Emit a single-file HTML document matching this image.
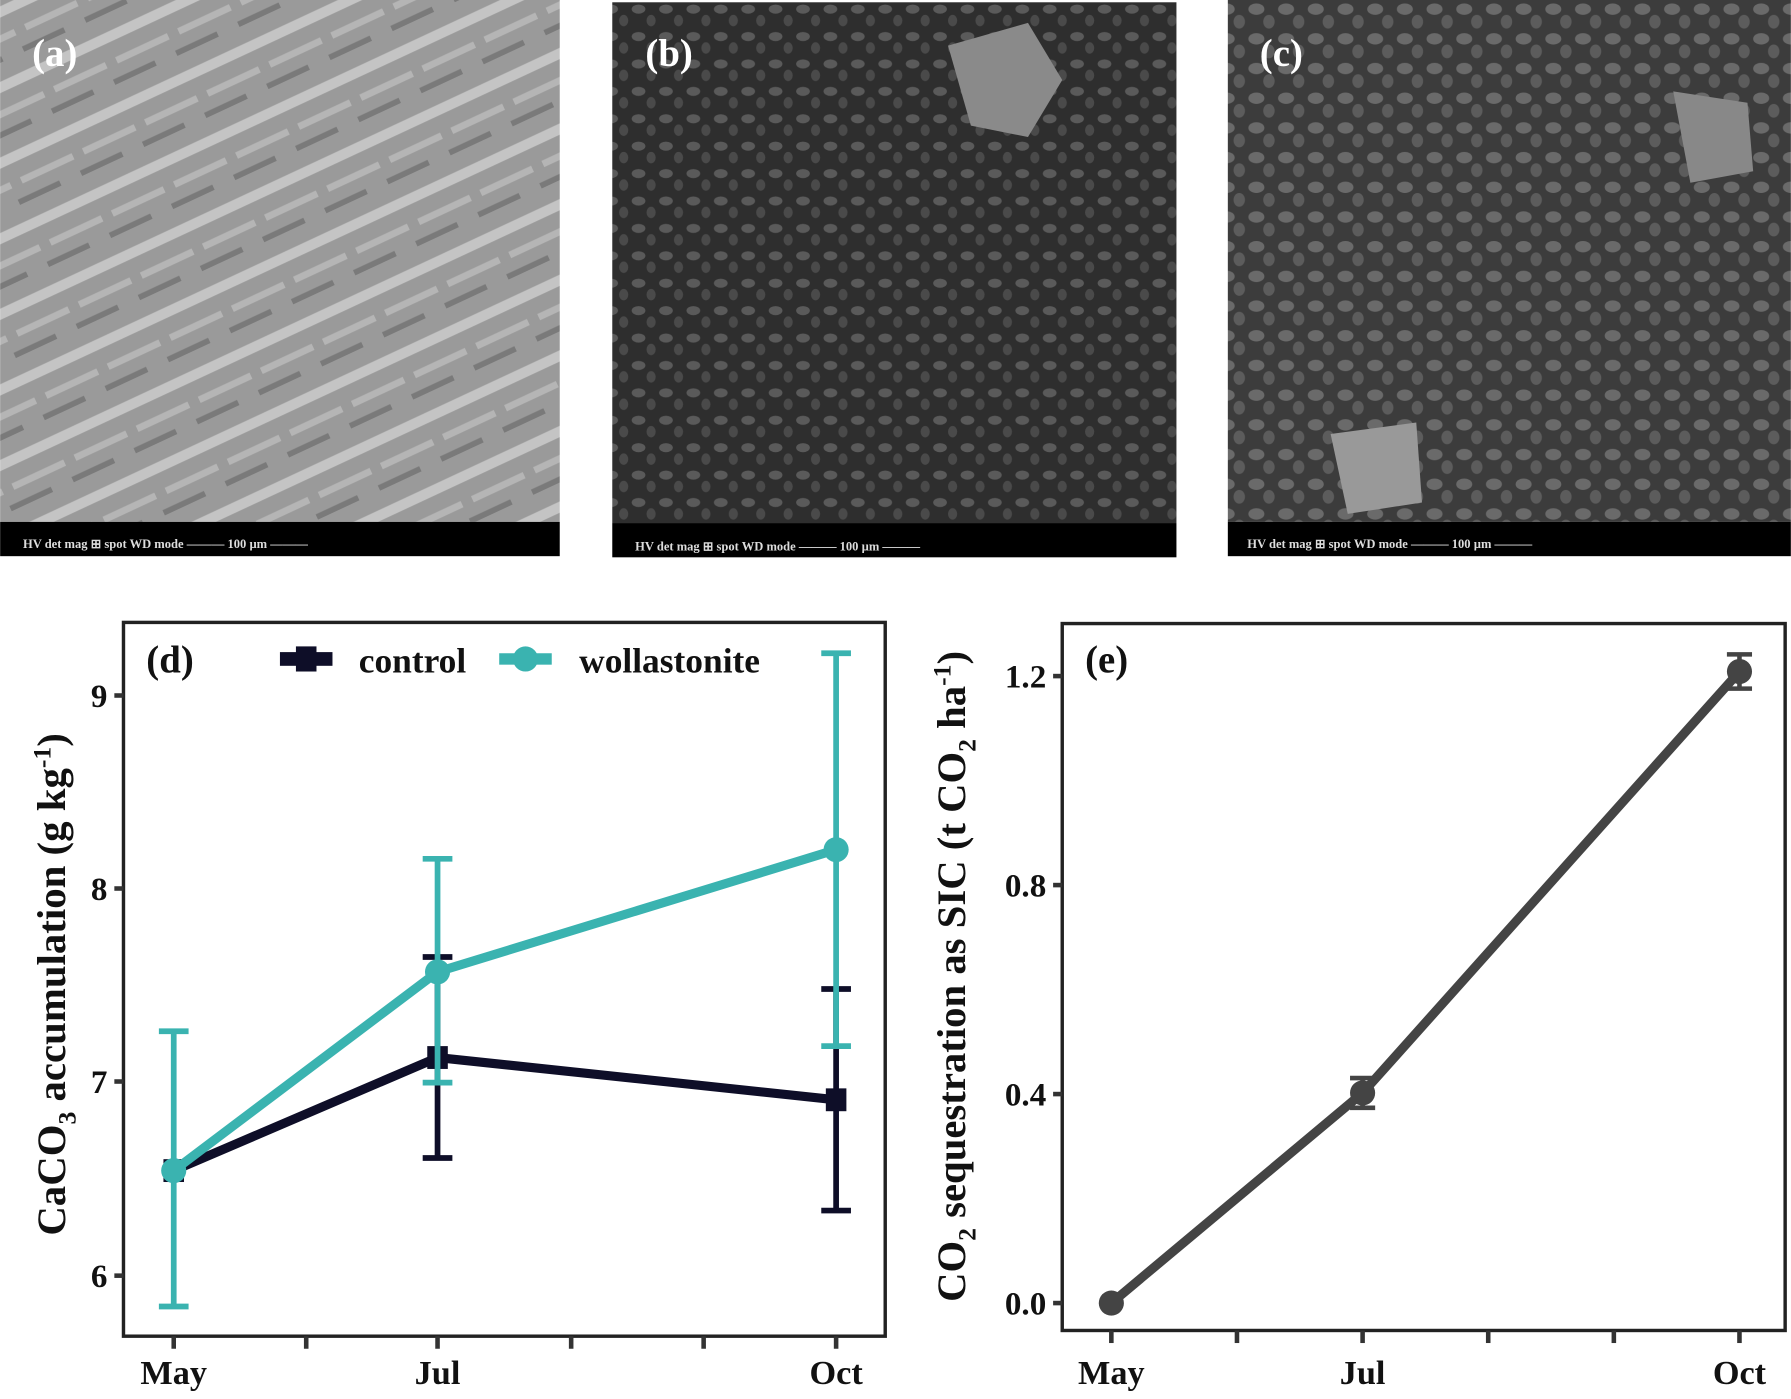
<!DOCTYPE html>
<html><head><meta charset="utf-8"><style>
html,body{margin:0;padding:0;background:#fff;}
svg{display:block;}
text{font-family:"Liberation Serif",serif;font-weight:bold;}
</style></head><body>
<svg width="1791" height="1399" viewBox="0 0 1568 1225" xmlns="http://www.w3.org/2000/svg">
<defs>
<pattern id="pa" width="60" height="60" patternUnits="userSpaceOnUse" patternTransform="rotate(-25)">
<rect width="60" height="60" fill="#9a9a9a"/>
<rect x="0" y="5" width="60" height="9" fill="#c4c4c4"/>
<rect x="10" y="28" width="50" height="6" fill="#b5b5b5"/>
<rect x="0" y="45" width="40" height="5" fill="#7a7a7a"/>
</pattern>
<pattern id="pb" width="24" height="24" patternUnits="userSpaceOnUse">
<rect width="24" height="24" fill="#2e2e2e"/>
<ellipse cx="7" cy="8" rx="6" ry="4" fill="#5a5a5a"/>
<ellipse cx="18" cy="18" rx="4" ry="5" fill="#4a4a4a"/>
</pattern>
<pattern id="pc" width="26" height="26" patternUnits="userSpaceOnUse">
<rect width="26" height="26" fill="#3c3c3c"/>
<ellipse cx="8" cy="8" rx="7" ry="5" fill="#6a6a6a"/>
<ellipse cx="19" cy="19" rx="5" ry="6" fill="#5c5c5c"/>
</pattern>
</defs>
<!-- SEM panels -->
<rect x="0" y="0" width="490" height="457" fill="url(#pa)"/>
<rect x="0" y="457" width="490" height="30" fill="#000"/>
<text x="28" y="58" font-size="34" fill="#fff">(a)</text>
<text x="20" y="480" font-size="11" fill="#ddd" font-weight="normal">HV    det   mag ⊞  spot   WD    mode        ——— 100 µm ———</text>
<rect x="536" y="2" width="494" height="456" fill="url(#pb)"/>
<rect x="536" y="458" width="494" height="30" fill="#000"/>
<polygon points="830,40 900,20 930,70 900,120 850,110" fill="#8a8a8a"/>
<text x="565" y="58" font-size="34" fill="#fff">(b)</text>
<text x="556" y="482" font-size="11" fill="#ddd" font-weight="normal">HV    det   mag ⊞  spot   WD    mode        ——— 100 µm ———</text>
<rect x="1075" y="0" width="493" height="457" fill="url(#pc)"/>
<rect x="1075" y="457" width="493" height="30" fill="#000"/>
<polygon points="1165,380 1240,370 1245,440 1180,450" fill="#999"/>
<polygon points="1465,80 1530,90 1535,150 1480,160" fill="#888"/>
<text x="1103" y="58" font-size="34" fill="#fff">(c)</text>
<text x="1092" y="480" font-size="11" fill="#ddd" font-weight="normal">HV    det   mag ⊞  spot   WD    mode        ——— 100 µm ———</text>

<!-- Chart d -->
<rect x="108" y="545" width="667" height="625" fill="none" stroke="#222" stroke-width="3"/>
<g stroke="#333" stroke-width="4">
<line x1="100" y1="609" x2="108" y2="609"/><line x1="100" y1="778" x2="108" y2="778"/>
<line x1="100" y1="947" x2="108" y2="947"/><line x1="100" y1="1117" x2="108" y2="1117"/>
<line x1="152" y1="1170" x2="152" y2="1181"/><line x1="268" y1="1170" x2="268" y2="1181"/>
<line x1="383" y1="1170" x2="383" y2="1181"/><line x1="500" y1="1170" x2="500" y2="1181"/>
<line x1="616" y1="1170" x2="616" y2="1181"/><line x1="732" y1="1170" x2="732" y2="1181"/>
</g>
<g font-size="29" text-anchor="end" fill="#111">
<text x="94" y="619">9</text><text x="94" y="788">8</text><text x="94" y="957">7</text><text x="94" y="1127">6</text>
</g>
<g font-size="30" text-anchor="middle" fill="#111">
<text x="152" y="1212">May</text><text x="383" y="1212">Jul</text><text x="732" y="1212">Oct</text>
</g>
<text transform="translate(57,862) rotate(-90)" font-size="35" text-anchor="middle" fill="#111" textLength="440" lengthAdjust="spacingAndGlyphs">CaCO<tspan font-size="22" dy="9">3</tspan><tspan dy="-9"> accumulation (g kg</tspan><tspan font-size="22" dy="-13">-1</tspan><tspan dy="13">)</tspan></text>
<text x="128" y="589" font-size="34" fill="#111">(d)</text>
<rect x="245" y="571" width="46" height="12" fill="#0e0e28"/><rect x="259" y="566" width="18" height="22" fill="#0e0e28"/>
<text x="314" y="589" font-size="31" fill="#111">control</text>
<rect x="437" y="572" width="46" height="10" fill="#3ab3b0"/><circle cx="460" cy="577" r="11" fill="#3ab3b0"/>
<text x="507" y="589" font-size="31" fill="#111">wollastonite</text>
<!-- control -->
<g stroke="#0e0e28" stroke-width="5" fill="none">
<line x1="383" y1="1014" x2="383" y2="838"/><line x1="370" y1="1014" x2="396" y2="1014"/><line x1="370" y1="838" x2="396" y2="838"/>
<line x1="732" y1="1060" x2="732" y2="866"/><line x1="719" y1="1060" x2="745" y2="1060"/><line x1="719" y1="866" x2="745" y2="866"/>
<polyline points="152,1025 383,926 732,963" stroke-width="8"/>
</g>
<g fill="#0e0e28"><rect x="143" y="1015" width="18" height="20"/><rect x="374" y="916" width="18" height="20"/><rect x="723" y="953" width="18" height="20"/></g>
<!-- wollastonite -->
<g stroke="#3ab3b0" stroke-width="5" fill="none">
<line x1="152" y1="1144" x2="152" y2="903"/><line x1="139" y1="1144" x2="165" y2="1144"/><line x1="139" y1="903" x2="165" y2="903"/>
<line x1="383" y1="948" x2="383" y2="752"/><line x1="370" y1="948" x2="396" y2="948"/><line x1="370" y1="752" x2="396" y2="752"/>
<line x1="732" y1="916" x2="732" y2="572"/><line x1="719" y1="916" x2="745" y2="916"/><line x1="719" y1="572" x2="745" y2="572"/>
<polyline points="152,1025 383,851 732,744" stroke-width="8"/>
</g>
<g fill="#3ab3b0"><circle cx="152" cy="1025" r="11"/><circle cx="383" cy="851" r="11"/><circle cx="732" cy="744" r="11"/></g>

<!-- Chart e -->
<rect x="930" y="546" width="633" height="619" fill="none" stroke="#222" stroke-width="3"/>
<g stroke="#333" stroke-width="4">
<line x1="922" y1="592" x2="930" y2="592"/><line x1="922" y1="775" x2="930" y2="775"/>
<line x1="922" y1="958" x2="930" y2="958"/><line x1="922" y1="1141" x2="930" y2="1141"/>
<line x1="973" y1="1165" x2="973" y2="1176"/><line x1="1083" y1="1165" x2="1083" y2="1176"/>
<line x1="1193" y1="1165" x2="1193" y2="1176"/><line x1="1303" y1="1165" x2="1303" y2="1176"/>
<line x1="1413" y1="1165" x2="1413" y2="1176"/><line x1="1523" y1="1165" x2="1523" y2="1176"/>
</g>
<g font-size="29" text-anchor="end" fill="#111">
<text x="916" y="602">1.2</text><text x="916" y="785">0.8</text><text x="916" y="968">0.4</text><text x="916" y="1151">0.0</text>
</g>
<g font-size="30" text-anchor="middle" fill="#111">
<text x="973" y="1212">May</text><text x="1193" y="1212">Jul</text><text x="1523" y="1212">Oct</text>
</g>
<text transform="translate(845,855) rotate(-90)" font-size="35" text-anchor="middle" fill="#111" textLength="570" lengthAdjust="spacingAndGlyphs">CO<tspan font-size="22" dy="9">2</tspan><tspan dy="-9"> sequestration as SIC (t CO</tspan><tspan font-size="22" dy="9">2</tspan><tspan dy="-9"> ha</tspan><tspan font-size="22" dy="-13">-1</tspan><tspan dy="13">)</tspan></text>
<text x="950" y="589" font-size="34" fill="#111">(e)</text>
<g stroke="#444" fill="none">
<polyline points="973,1141 1193,957 1523,588" stroke-width="8"/>
<g stroke-width="4">
<line x1="1193" y1="944" x2="1193" y2="970"/><line x1="1182" y1="944" x2="1204" y2="944"/><line x1="1182" y1="970" x2="1204" y2="970"/>
<line x1="1523" y1="573" x2="1523" y2="603"/><line x1="1512" y1="573" x2="1534" y2="573"/><line x1="1512" y1="603" x2="1534" y2="603"/>
</g>
</g>
<g fill="#444"><circle cx="973" cy="1141" r="11"/><circle cx="1193" cy="957" r="11"/><circle cx="1523" cy="588" r="11"/></g>
</svg>
</body></html>
